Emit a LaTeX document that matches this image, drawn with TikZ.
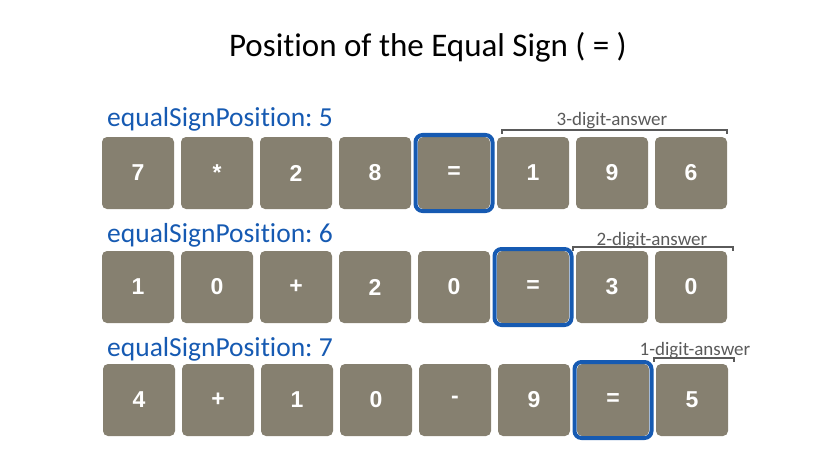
\documentclass[tikz,border=0pt]{standalone}
\usepackage{fontspec}
\setmainfont{Carlito}[Ligatures={NoCommon}]
\newfontfamily\digitfont{Liberation Sans}
\definecolor{boxgray}{RGB}{134,128,112}
\definecolor{eqblue}{RGB}{22,90,178}
\definecolor{brgray}{RGB}{90,90,90}
\frenchspacing
\begin{document}
\begin{tikzpicture}[x=1pt,y=-1pt,
  cell/.style={draw=none,fill=boxgray,rounded corners=5pt,minimum width=72pt,minimum height=72pt,
    inner sep=0pt,text=white,font=\digitfont\bfseries\fontsize{23}{25}\selectfont},
  eqframe/.style={draw=eqblue,line width=4pt,rounded corners=7pt,minimum width=77pt,minimum height=76pt,inner sep=0pt},
  poslabel/.style={anchor=base west,text=eqblue,inner sep=0pt,font=\fontsize{27.5}{30}\selectfont},
  brlabel/.style={anchor=base,text=brgray,inner sep=0pt,font=\fontsize{19}{22}\selectfont},
  brace/.style={draw=brgray,line width=2pt}]
\useasboundingbox (0,0) rectangle (840,476);
\node[anchor=base,inner sep=0pt,font=\fontsize{33}{36}\selectfont] (title) at (428,57) {Position of the Equal Sign ( = )};
% row 1
\node[poslabel] (l1) at (107,127) {equalSignPosition: 5};
\foreach \t [count=\i] in {7,*,2,8,=,1,9,6}{
  \node[cell] (a\i) at ({138+79*(\i-1)},173) {\t};
}
\node[eqframe] (f1) at (a5.center) {};
\draw[brace] ([xshift=5pt,yshift=3pt]a6.north west) |- ([yshift=7pt]a8.north east) -- ([yshift=3pt]a8.north east);
\node[brlabel] (t1) at (612,125) {3-digit-answer};
% row 2
\node[poslabel] (l2) at (107,242) {equalSignPosition: 6};
\foreach \t [count=\i] in {1,0,+,2,0,=,3,0}{
  \node[cell] (b\i) at ({138+79*(\i-1)},287) {\t};
}
\node[eqframe] (f2) at (b6.center) {};
\draw[brace] ([xshift=-3pt,yshift=0pt]b7.north west) |- ([xshift=6pt,yshift=4pt]b8.north east) -- ([xshift=6pt,yshift=0pt]b8.north east);
\node[brlabel] (t2) at (652,245) {2-digit-answer};
% row 3
\node[poslabel] (l3) at (107,356) {equalSignPosition: 7};
\foreach \t [count=\i] in {4,+,1,0,-,9,=,5}{
  \node[cell] (c\i) at ({139+79*(\i-1)},400) {\t};
}
\node[eqframe] (f3) at (c7.center) {};
\draw[brace] ([xshift=-2pt,yshift=2pt]c8.north west) |- ([xshift=6pt,yshift=6pt]c8.north east) -- ([xshift=6pt,yshift=2pt]c8.north east);
\node[brlabel] (t3) at (695,355) {1-digit-answer};
\end{tikzpicture}
\end{document}
